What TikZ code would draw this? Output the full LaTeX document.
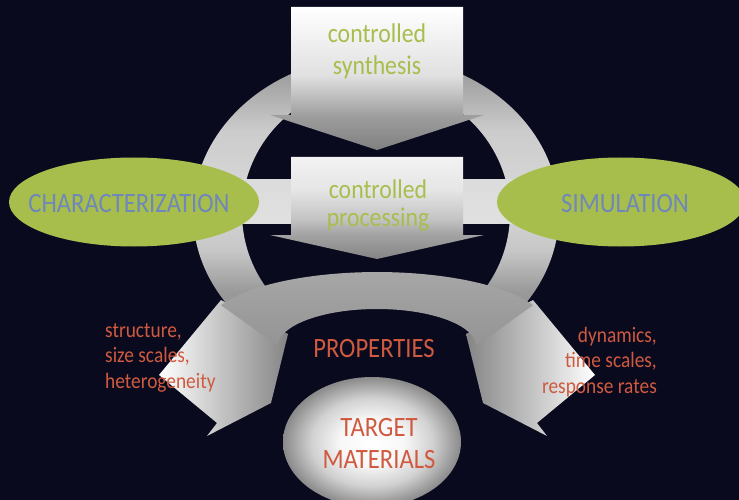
\documentclass[tikz,border=0pt]{standalone}
\usepackage{fontspec}
\setmainfont{Carlito}[FakeStretch=0.88]
\usetikzlibrary{shapes.geometric}

\definecolor{bg}{RGB}{10,10,31}
\definecolor{leaf}{RGB}{167,190,77}
\definecolor{slate}{RGB}{111,135,186}
\definecolor{brick}{RGB}{207,90,63}

% grey ring: dark at the top and bottom, light at the sides
\pgfdeclareverticalshading{ringshade}{100bp}{%
  color(0bp)=(white!52!black); color(25bp)=(white!52!black);
  color(37.5bp)=(white!60!black); color(44bp)=(white!78!black);
  color(52bp)=(white!85!black); color(63bp)=(white!80!black);
  color(71bp)=(white!64!black); color(75bp)=(white!58!black);
  color(100bp)=(white!58!black)}
% block arrows: white at the top fading to grey at the tip
\pgfdeclareverticalshading{synthshade}{100bp}{%
  color(0bp)=(white!50!black); color(25bp)=(white!50!black);
  color(37bp)=(white!62!black); color(43bp)=(white!73!black);
  color(51bp)=(white!88!black); color(75bp)=(white);
  color(100bp)=(white)}
\pgfdeclareverticalshading{procshade}{100bp}{%
  color(0bp)=(white!52!black); color(25bp)=(white!52!black);
  color(37bp)=(white!64!black); color(45bp)=(white!77!black);
  color(59bp)=(white!90!black); color(75bp)=(white!95!black);
  color(100bp)=(white!95!black)}
% glowing target disc
\pgfdeclareradialshading{glow}{\pgfpoint{0bp}{0bp}}{%
  color(0bp)=(white); color(9bp)=(white!97!black);
  color(17bp)=(white!82!black); color(25bp)=(white!54!black);
  color(50bp)=(white!54!black)}

\tikzset{
  oval/.style={ellipse, fill=leaf, inner sep=0pt},
  capslabel/.style={font=\fontsize{28}{32}\selectfont, inner sep=0pt},
  greenlabel/.style={font=\fontsize{27}{32}\selectfont, text=leaf, inner sep=0pt},
  sidelabel/.style={font=\fontsize{22}{25.5}\selectfont, text=brick, inner sep=0pt},
}

\begin{document}
\begin{tikzpicture}[x=1pt, y=-1pt]
\fill[bg] (0,0) rectangle (739,500);
\useasboundingbox (0,0) rectangle (739,500);

% ring, hidden below the properties band
\begin{scope}
  \clip (0,0) rectangle (739,312);
  \shade[shading=ringshade, even odd rule]
    (376,213) ellipse [x radius=183, y radius=157]
    (376,213) ellipse [x radius=134, y radius=130];
\end{scope}

% horizontal bar joining characterization and simulation
\shade[top color=white!86!black, middle color=white!68!black, bottom color=white!88!black]
  (200,179) rectangle (560,223);

% controlled synthesis arrow
\shade[shading=synthshade]
  (291,7) -- (463,7) -- (463,115) -- (484,115) -- (377,150) -- (270,115) -- (291,115) -- cycle;

% controlled processing arrow
\shade[shading=procshade]
  (291,157) -- (463,157) -- (463,235) -- (484,235) -- (377,259) -- (270,235) -- (291,235) -- cycle;

% side ovals
\node[oval, minimum width=250, minimum height=89] (charoval) at (134,202) {};
\node[oval, minimum width=248, minimum height=89] (simoval) at (621,202) {};

% outgoing arrows left and right
\shade[left color=white, middle color=white!88!black, right color=white!52!black]
  (221,300) -- (159,375) -- (217,423) -- (207,436) -- (271,403) -- (288,334) -- cycle;
\shade[left color=white!52!black, middle color=white!88!black, right color=white]
  (533,300) -- (595,375) -- (537,423) -- (547,436) -- (483,403) -- (466,334) -- cycle;

% properties band
\shade[top color=white!66!black, bottom color=white!58!black]
  (221,305.2) arc[start angle=203.4, end angle=336.6, x radius=170, y radius=55]
  -- (476,346) arc[start angle=0, end angle=-180, x radius=99, y radius=37] -- cycle;

% target disc
\node[ellipse, minimum width=178, minimum height=130, inner sep=0pt, shading=glow] (target) at (372,442) {};

% labels
\node[greenlabel, anchor=base] (synth) at (377,42.5)
  {\begin{tabular}[t]{@{}c@{}}controlled\\synthesis\end{tabular}};
\node[greenlabel, font=\fontsize{27}{28}\selectfont, anchor=base] (proc) at (378,198)
  {\begin{tabular}[t]{@{}c@{}}controlled\\processing\end{tabular}};
\node[capslabel, text=slate, anchor=base] (charlabel) at (129,212) {CHARACTERIZATION};
\node[capslabel, text=slate, anchor=base] (simlabel) at (625,212) {SIMULATION};
\node[capslabel, text=brick, anchor=base] (proplabel) at (374,357) {PROPERTIES};
\node[capslabel, text=brick, anchor=base] (targetlabel) at (379,436)
  {\begin{tabular}[t]{@{}c@{}}TARGET\\MATERIALS\end{tabular}};
\node[sidelabel, anchor=base west] (structlabel) at (105,337)
  {\begin{tabular}[t]{@{}l@{}}structure,\\size scales,\\heterogeneity\end{tabular}};
\node[sidelabel, anchor=base east] (dynlabel) at (657,342)
  {\begin{tabular}[t]{@{}r@{}}dynamics,\\time scales,\\response rates\end{tabular}};
\end{tikzpicture}
\end{document}
